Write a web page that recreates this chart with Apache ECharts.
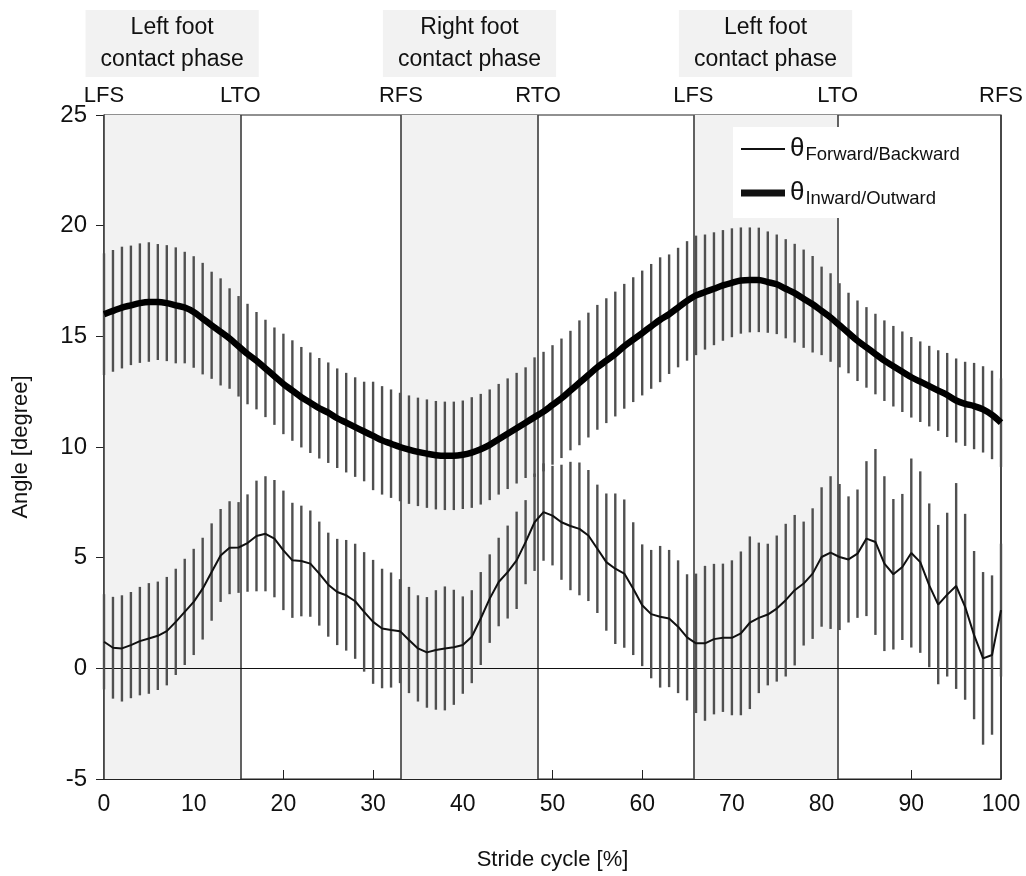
<!DOCTYPE html>
<html>
<head>
<meta charset="utf-8">
<script src="https://cdn.jsdelivr.net/npm/echarts@6/dist/echarts.min.js"></script>
<style>
  html, body { margin: 0; padding: 0; background: #fff; }
  #chart { width: 1026px; height: 876px; }
</style>
</head>
<body>
<div id="chart"></div>
<script>
// stride cycle samples, one per percent
var inwardMean = [16.0,16.15,16.3,16.4,16.5,16.55,16.55,16.5,16.4,16.3,
  16.1,15.8,15.5,15.2,14.9,14.55,14.2,13.9,13.55,13.2,
  12.85,12.55,12.25,12.0,11.75,11.55,11.3,11.1,10.9,10.7,
  10.5,10.3,10.15,10.0,9.88,9.78,9.7,9.63,9.6,9.6,
  9.65,9.75,9.9,10.1,10.35,10.6,10.85,11.1,11.35,11.6,
  11.9,12.2,12.55,12.9,13.25,13.6,13.9,14.2,14.55,14.85,
  15.15,15.45,15.75,16.0,16.3,16.6,16.85,17.0,17.15,17.3,
  17.42,17.52,17.55,17.55,17.45,17.35,17.15,16.95,16.7,16.45,
  16.15,15.85,15.5,15.15,14.8,14.5,14.2,13.9,13.65,13.4,
  13.15,12.95,12.75,12.55,12.35,12.1,11.95,11.85,11.7,11.45,
  11.1];
var inwardSd = [2.75,2.75,2.75,2.7,2.7,2.7,2.62,2.62,2.62,2.52,
  2.52,2.52,2.42,2.42,2.27,2.27,2.27,2.2,2.2,2.2,
  2.27,2.27,2.27,2.27,2.27,2.27,2.25,2.25,2.25,2.25,
  2.45,2.45,2.45,2.45,2.45,2.45,2.45,2.45,2.45,2.45,
  2.45,2.5,2.5,2.5,2.5,2.5,2.5,2.5,2.7,2.7,
  2.7,2.7,2.7,2.82,2.82,2.82,2.82,2.82,2.82,2.82,
  2.82,2.82,2.82,2.7,2.7,2.7,2.7,2.6,2.55,2.5,
  2.46,2.4,2.37,2.36,2.29,2.25,2.24,2.23,2.22,2.18,
  2.0,2.0,1.9,1.82,1.82,1.82,1.82,1.82,1.82,1.82,
  1.82,1.82,1.82,1.82,1.9,1.9,1.9,1.95,1.95,2.0,
  2.0];
var forwardMean = [1.2,0.93,0.9,1.05,1.23,1.35,1.47,1.68,2.1,2.55,
  3.0,3.6,4.35,5.1,5.45,5.46,5.66,5.98,6.08,5.86,
  5.33,4.88,4.85,4.73,4.28,3.78,3.45,3.3,3.03,2.55,
  2.1,1.8,1.73,1.68,1.28,0.9,0.72,0.83,0.9,0.95,
  1.05,1.43,2.25,3.15,3.9,4.35,4.88,5.7,6.6,7.06,
  6.9,6.6,6.43,6.3,6.0,5.4,4.8,4.5,4.28,3.6,
  2.85,2.45,2.33,2.25,1.88,1.4,1.13,1.13,1.32,1.38,
  1.38,1.58,2.06,2.28,2.43,2.7,3.08,3.53,3.83,4.28,
  5.03,5.23,5.03,4.92,5.18,5.86,5.71,4.73,4.25,4.58,
  5.21,4.8,3.75,2.88,3.33,3.72,2.78,1.5,0.45,0.6,
  2.63];
var forwardSd = [2.15,2.3,2.4,2.4,2.45,2.5,2.45,2.45,2.4,2.4,
  2.4,2.3,2.2,2.1,2.1,2.05,2.2,2.5,2.6,2.65,
  2.7,2.6,2.5,2.4,2.35,2.35,2.4,2.5,2.6,2.7,
  2.8,2.7,2.6,2.35,2.4,2.4,2.5,2.7,2.8,2.6,
  2.2,2.1,2.1,2.0,2.0,2.1,2.2,1.9,2.2,2.2,
  2.25,2.6,2.9,3.0,2.96,2.9,3.1,3.4,3.35,3.0,
  2.75,2.9,3.2,3.1,3.0,2.85,3.15,3.5,3.4,3.35,
  3.5,3.7,3.9,3.4,3.2,3.3,3.45,3.4,2.8,2.95,
  3.15,3.45,3.3,2.85,2.9,3.5,4.2,3.95,3.4,3.3,
  4.27,4.1,3.7,3.6,3.7,4.65,4.2,3.8,3.9,3.6,
  3.0];

var eventPos = [0, 15.2, 33.1, 48.4, 65.7, 81.8, 100];
var eventNames = ['LFS', 'LTO', 'RFS', 'RTO', 'LFS', 'LTO', 'RFS'];
var phaseRanges = [[0, 15.2], [33.1, 48.4], [65.7, 81.8]];
var phaseNames = ['Left foot\ncontact phase', 'Right foot\ncontact phase', 'Left foot\ncontact phase'];

var font = "'Liberation Sans', Arial, sans-serif";

function pairs(vals) {
  return vals.map(function (v, i) { return [i, v]; });
}
function bars(mean, sd) {
  return mean.map(function (m, i) { return [i, m - sd[i], m + sd[i]]; });
}
function errorBar(params, api) {
  var lo = api.coord([api.value(0), api.value(1)]);
  var hi = api.coord([api.value(0), api.value(2)]);
  return {
    type: 'line',
    shape: { x1: lo[0], y1: lo[1], x2: hi[0], y2: hi[1] },
    style: { stroke: '#505050', lineWidth: 2.4 }
  };
}

var chart = echarts.init(document.getElementById('chart'));
var option = {
  animation: false,
  backgroundColor: '#fff',
  grid: { left: 104, top: 115, right: 25, bottom: 94, show: true, borderColor: '#222', borderWidth: 1.2, backgroundColor: 'transparent' },
  legend: {
    data: [
      { name: 'Forward/Backward', icon: 'path://M0,0H44V2H0Z' },
      { name: 'Inward/Outward', icon: 'path://M0,0H44V7H0Z' }
    ],
    orient: 'vertical',
    left: 733, top: 127,
    backgroundColor: '#fff',
    padding: [8, 14, 10, 8],
    itemWidth: 44, itemHeight: 14, itemGap: 15,
    itemStyle: { color: '#111', borderWidth: 0 },
    z: 10,
    formatter: function (name) { return '{t|θ}{s|' + name + '}'; },
    textStyle: {
      color: '#111',
      rich: {
        t: { fontSize: 26, fontFamily: font, color: '#111', lineHeight: 30 },
        s: { fontSize: 18.5, fontFamily: font, color: '#111', lineHeight: 30, verticalAlign: 'bottom', padding: [10, 0, 0, 1] }
      }
    }
  },
  xAxis: {
    type: 'value', min: 0, max: 100, interval: 10,
    name: 'Stride cycle [%]', nameLocation: 'middle', nameGap: 70,
    nameTextStyle: { fontSize: 22, fontFamily: font, color: '#111' },
    axisLine: { onZero: false, lineStyle: { color: '#222', width: 1.2 } },
    axisTick: { inside: true, length: 9, lineStyle: { color: '#222' } },
    axisLabel: { fontSize: 23, fontFamily: font, color: '#111', margin: 14 },
    splitLine: { show: false }
  },
  yAxis: {
    type: 'value', min: -5, max: 25, interval: 5,
    name: 'Angle [degree]', nameLocation: 'middle', nameGap: 72, nameRotate: 90,
    nameTextStyle: { fontSize: 22, fontFamily: font, color: '#111' },
    axisLine: { show: true, lineStyle: { color: '#222', width: 1.2 } },
    axisTick: { show: true, inside: false, length: 8, lineStyle: { color: '#222' } },
    axisLabel: { fontSize: 24, fontFamily: font, color: '#111', margin: 17 },
    splitLine: { show: false }
  },
  series: [
    {
      name: 'phases', type: 'line', data: [], z: 1, silent: true,
      markArea: {
        silent: true,
        itemStyle: { color: '#f2f2f2' },
        label: {
          show: true, position: 'top', distance: 38,
          fontSize: 23, lineHeight: 32, fontFamily: font, color: '#111',
          backgroundColor: '#f2f2f2', padding: [2, 15, 1, 15]
        },
        data: phaseRanges.map(function (r, i) {
          return [{ xAxis: r[0], name: phaseNames[i] }, { xAxis: r[1] }];
        })
      },
      markLine: {
        silent: true, symbol: ['none', 'none'], z: 3,
        lineStyle: { color: '#3c3c3c', width: 1.6, type: 'solid' },
        label: { show: true, position: 'end', distance: 8, formatter: '{b}', fontSize: 22, fontFamily: font, color: '#111' },
        data: eventPos.map(function (p, i) { return { xAxis: p, name: eventNames[i] }; })
          .concat([{ yAxis: 0, name: '', label: { show: false }, lineStyle: { color: '#111', width: 1.2 } }])
      }
    },
    {
      name: 'Inward SD', type: 'custom', z: 4, renderItem: errorBar,
      encode: { x: 0, y: [1, 2] }, data: bars(inwardMean, inwardSd)
    },
    {
      name: 'Forward SD', type: 'custom', z: 4, renderItem: errorBar,
      encode: { x: 0, y: [1, 2] }, data: bars(forwardMean, forwardSd)
    },
    {
      name: 'Forward/Backward', type: 'line', z: 6, symbol: 'none',
      lineStyle: { color: '#111', width: 2 }, itemStyle: { color: '#111' },
      data: pairs(forwardMean)
    },
    {
      name: 'Inward/Outward', type: 'line', z: 6, symbol: 'none', smooth: 0.3,
      lineStyle: { color: '#000', width: 6.5 }, itemStyle: { color: '#000' },
      data: pairs(inwardMean)
    }
  ]
};
chart.setOption(option);
</script>
</body>
</html>
